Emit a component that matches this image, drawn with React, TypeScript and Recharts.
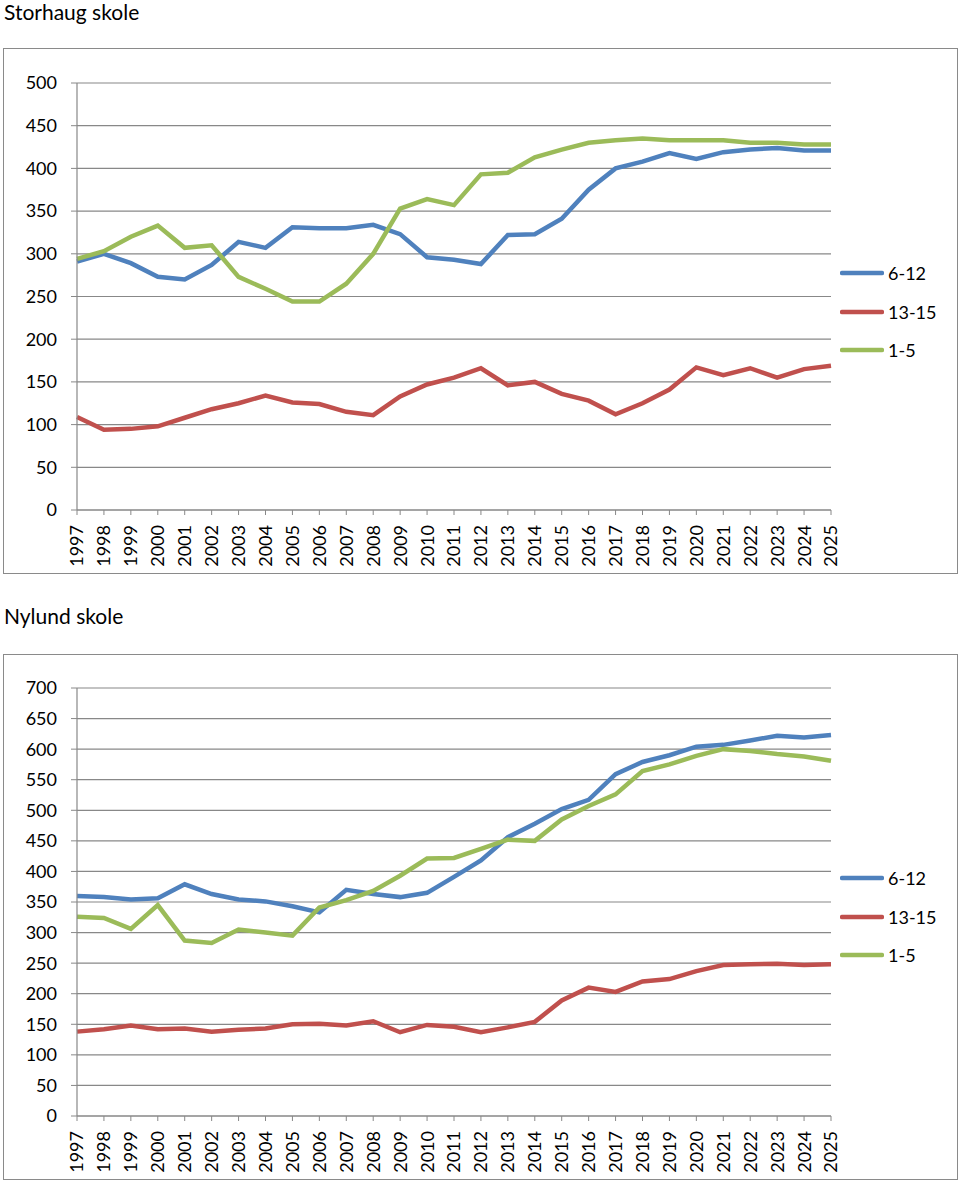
import React from 'react';
import { LineChart, Line, XAxis, YAxis, CartesianGrid } from 'recharts';

const years = ['1997','1998','1999','2000','2001','2002','2003','2004','2005','2006','2007','2008','2009','2010','2011','2012','2013','2014','2015','2016','2017','2018','2019','2020','2021','2022','2023','2024','2025'];

const storhaug612 = [291,300,289,273,270,287,314,307,331,330,330,334,323,296,293,288,322,323,341,375,400,408,418,411,419,422,424,421,421];
const storhaug1315 = [109,94,95,98,108,118,125,134,126,124,115,111,133,147,155,166,146,150,136,128,112,125,141,167,158,166,155,165,169];
const storhaug15 = [294,303,320,333,307,310,273,259,244,244,265,300,353,364,357,393,395,413,422,430,433,435,433,433,433,430,430,428,428];

const nylund612 = [360,358,354,356,379,363,354,351,343,333,370,363,358,365,391,418,456,478,502,517,559,579,590,604,607,614,622,619,623];
const nylund1315 = [138,142,148,142,143,138,141,143,150,151,148,155,137,149,146,137,145,154,189,210,203,220,224,237,247,248,249,247,248];
const nylund15 = [326,324,306,345,287,283,305,300,295,341,353,368,393,421,422,437,452,450,485,507,526,564,575,589,600,597,592,588,581];

const storhaugTicks = [0,50,100,150,200,250,300,350,400,450,500];
const nylundTicks = [0,50,100,150,200,250,300,350,400,450,500,550,600,650,700];

const seriesNames = ['6-12', '13-15', '1-5'];
const colors = ['#4F81BD', '#C0504D', '#9BBB59'];

const FONT = 'Lato, "Open Sans", sans-serif';
const GRID = '#888888';

function build(a: number[], b: number[], c: number[]) {
  return years.map((y, i) => ({ year: y, s612: a[i], s1315: b[i], s15: c[i] }));
}

const XTick = (props: any) => {
  const { x, y, payload } = props;
  return (
    <text
      x={x}
      y={y}
      transform={`rotate(-90, ${x}, ${y})`}
      textAnchor="end"
      dy="0.36em"
      fontSize={18}
      fontFamily={FONT}
      fill="#000"
    >
      {payload.value}
    </text>
  );
};

const LegendBlock = (props: { top: number }) => (
  <div style={{ position: 'absolute', left: 836, top: props.top, width: 110, fontFamily: FONT, fontSize: 18, color: '#000' }}>
    {seriesNames.map((n, i) => (
      <div key={n} style={{ height: 38.5, display: 'flex', alignItems: 'center' }}>
        <svg width={44} height={6} style={{ display: 'block' }}>
          <line x1={2} y1={3} x2={42} y2={3} stroke={colors[i]} strokeWidth={4.5} strokeLinecap="round" />
        </svg>
        <span style={{ marginLeft: 4 }}>{n}</span>
      </div>
    ))}
  </div>
);

function Panel(props: { title: string; titleTop: number; boxTop: number; data: any[]; max: number; ticks: number[]; marginTop: number; legendTop: number }) {
  const { title, titleTop, boxTop, data, max, ticks, marginTop, legendTop } = props;
  return (
    <>
      <div style={{ position: 'absolute', left: 4, top: titleTop, fontFamily: FONT, fontSize: 21, color: '#000', lineHeight: '24px', whiteSpace: 'nowrap' }}>
        {title}
      </div>
      <div style={{ position: 'absolute', left: 3, top: boxTop, width: 955, height: 526, border: '1px solid #8a8a8a', boxSizing: 'border-box', background: '#fff' }}>
        <LineChart width={953} height={524} data={data} margin={{ top: marginTop, right: 126, bottom: 0, left: 13 }}>
          <CartesianGrid vertical={false} stroke={GRID} strokeWidth={1.2} />
          <XAxis
            dataKey="year"
            interval={0}
            height={63}
            tickSize={5}
            tickMargin={10}
            tick={<XTick />}
            stroke={GRID}
            tickLine={{ stroke: GRID }}
            axisLine={{ stroke: GRID, strokeWidth: 1.2 }}
          />
          <YAxis
            domain={[0, max]}
            ticks={ticks}
            interval={0}
            width={60}
            tickSize={6}
            tickMargin={14}
            stroke={GRID}
            axisLine={{ stroke: GRID, strokeWidth: 1.2 }}
            tickLine={{ stroke: GRID }}
            tick={{ fontSize: 18, fontFamily: FONT, fill: '#000' }}
          />
          <Line type="linear" dataKey="s612" name={seriesNames[0]} stroke={colors[0]} strokeWidth={4.5} dot={false} isAnimationActive={false} />
          <Line type="linear" dataKey="s1315" name={seriesNames[1]} stroke={colors[1]} strokeWidth={4.5} dot={false} isAnimationActive={false} />
          <Line type="linear" dataKey="s15" name={seriesNames[2]} stroke={colors[2]} strokeWidth={4.5} dot={false} isAnimationActive={false} />
        </LineChart>
        <LegendBlock top={legendTop} />
      </div>
    </>
  );
}

export default function App() {
  return (
    <div style={{ position: 'absolute', left: 0, top: 0, width: 960, height: 1182, background: '#fff' }}>
      <Panel title="Storhaug skole" titleTop={0} boxTop={48} data={build(storhaug612, storhaug1315, storhaug15)} max={500} ticks={storhaugTicks} marginTop={34} legendTop={205} />
      <Panel title="Nylund skole" titleTop={604} boxTop={654} data={build(nylund612, nylund1315, nylund15)} max={700} ticks={nylundTicks} marginTop={33} legendTop={204} />
    </div>
  );
}
